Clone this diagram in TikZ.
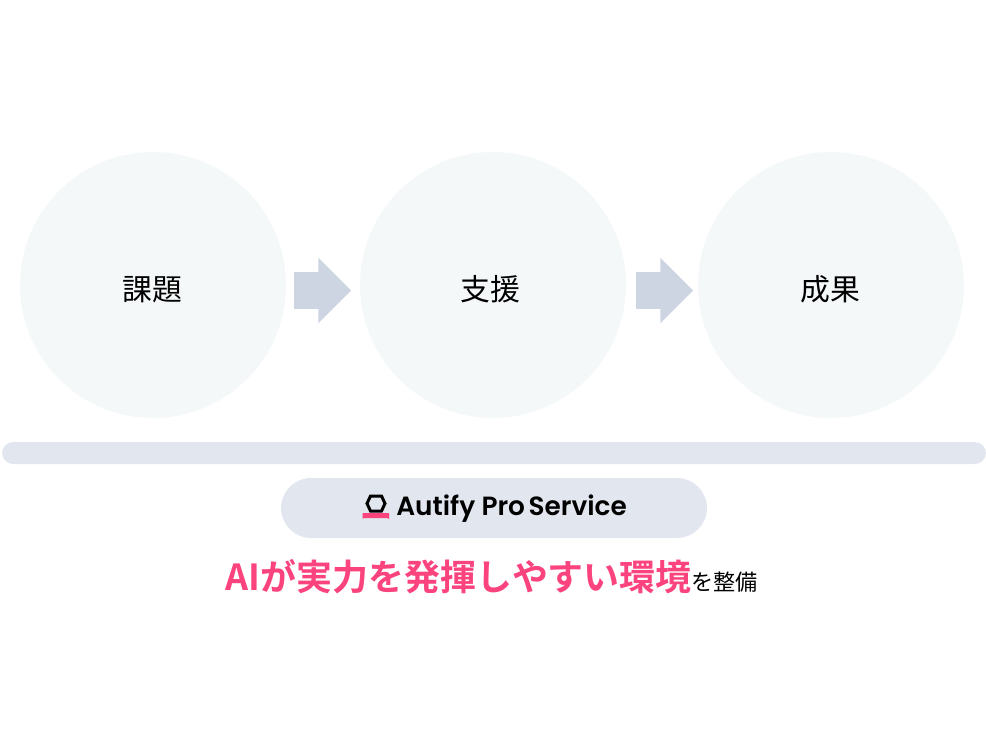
\documentclass[tikz,border=0pt]{standalone}
\usepackage{fontspec}
\setmainfont{Noto Sans CJK JP}
\newfontfamily\jpbold{Noto Sans CJK JP Bold}
\newfontfamily\logofont{Poppins SemiBold}
\usetikzlibrary{shapes.arrows}
\definecolor{circlebg}{HTML}{F4F8F9}
\definecolor{arrowbg}{HTML}{CCD5E1}
\definecolor{barbg}{HTML}{E2E7EF}
\definecolor{accent}{HTML}{FB437E}
\tikzset{
  stage/.style={circle,fill=circlebg,minimum size=5.32cm,inner sep=0pt},
  flow/.style={single arrow,fill=arrowbg,inner sep=0.36cm,minimum height=1.14cm,
    single arrow head extend=0.29cm,single arrow head indent=0pt,shape border rotate=0}
}
\begin{document}
\begin{tikzpicture}[x=0.02cm,y=-0.02cm]
  \useasboundingbox (0,0) rectangle (986,750);
  % three stages
  \foreach \px/\tx/\name/\txt in {153/152/issue/課題,493/490.5/support/支援,831/830.5/result/成果}
  {
    \node[stage] (\name) at (\px,285) {};
    \node[font=\fontsize{17}{20}\selectfont,inner sep=0pt] (\name text) at (\tx,289.5) {\txt};
  }
  \node[flow] (flowa) at (313.5,290.5) {};
  \node[flow] (flowb) at (655.5,290.5) {};
  % platform
  \node[fill=barbg,rounded corners=0.22cm,minimum width=19.68cm,minimum height=0.44cm,inner sep=0pt] (bar) at (494,453) {};
  \node[fill=barbg,rounded corners=0.6cm,minimum width=8.52cm,minimum height=1.2cm,inner sep=0pt] (pill) at (494,508) {};
  % logo
  \draw[line width=1.7pt,line join=miter] (370.5,496) -- (381.5,496) -- (385,503.5) -- (381.5,511) -- (370.5,511) -- (367,503.5) -- cycle;
  \fill[accent] (362.5,519) -- (362.5,513) -- (389,513) -- (389,519) -- (387.5,518) -- (364,518) -- cycle;
  \node[inner sep=0pt,anchor=west,font=\logofont\fontsize{15}{18}\selectfont] (brand) at (396,509) {Autify Pro\kern-1.5pt\ Service};
  % headline
  \node[inner sep=0pt] (headline) at (492,577) {{\jpbold\fontsize{20.45}{24}\selectfont\color{accent}AIが実力を発揮しやすい環境}{\fontsize{12.6}{14}\selectfont を整備}};
\end{tikzpicture}
\end{document}
